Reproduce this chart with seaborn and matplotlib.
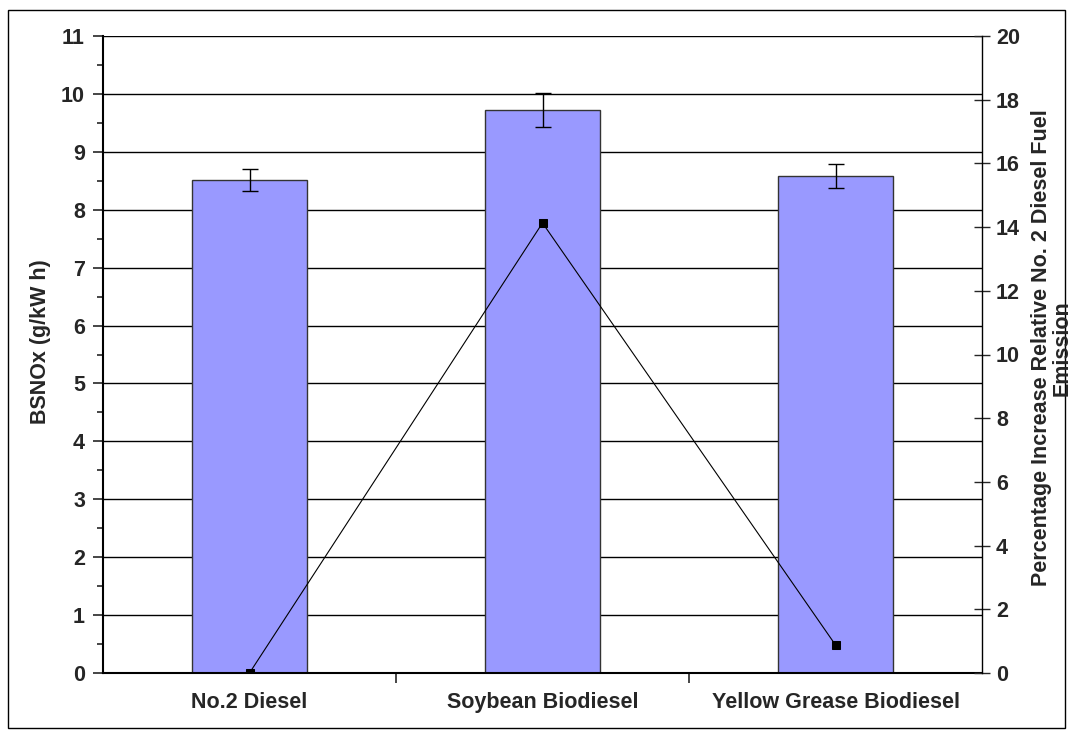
import matplotlib
matplotlib.use('Agg')
import matplotlib.pyplot as plt
from matplotlib.ticker import MultipleLocator
import seaborn as sns
import pandas as pd

fuels = ['No.2 Diesel', 'Soybean Biodiesel', 'Yellow Grease Biodiesel']
bsnox = [8.52, 9.72, 8.58]
bsnox_err = [0.19, 0.29, 0.21]
pct_increase = [0.0, 14.13, 0.88]

sns.set_style('white')
plt.rcParams['font.family'] = ['Liberation Sans', 'DejaVu Sans']
plt.rcParams['font.weight'] = 'bold'
FS = 15.5

df = pd.DataFrame({'fuel': fuels, 'bsnox': bsnox, 'pct': pct_increase})

fig = plt.figure(figsize=(10.73, 7.36), dpi=100)
ax = fig.add_axes([103 / 1073, 1 - 673 / 736, 879 / 1073, 637 / 736])

ax.set_axisbelow(True)
ax.yaxis.grid(True, which='major', color='black', linewidth=1.0)
sns.barplot(data=df, x='fuel', y='bsnox', color='#9999FF', edgecolor='#333333',
            linewidth=1.0, width=0.395, saturation=1, ax=ax, zorder=2)
ax.errorbar(range(len(fuels)), bsnox, yerr=bsnox_err, fmt='none', ecolor='black',
            elinewidth=1.0, capsize=6, capthick=1.0, zorder=3)

ax.set_xlim(-0.5, 2.5)
ax.set_ylim(0, 11)
ax.yaxis.set_major_locator(MultipleLocator(1))
ax.yaxis.set_minor_locator(MultipleLocator(0.5))
ax.tick_params(axis='y', which='major', direction='out', length=7, width=1.2, labelsize=FS, pad=6)
ax.tick_params(axis='y', which='minor', direction='out', length=4, width=1.2, left=True)
ax.set_xticks([0, 1, 2])
ax.set_xticklabels(fuels, fontsize=FS, fontweight='bold')
ax.set_xticks([0.5, 1.5], minor=True)
ax.tick_params(axis='x', which='major', length=0, pad=14)
ax.tick_params(axis='x', which='minor', direction='out', length=7, width=1.2, bottom=True)
for lab in ax.get_yticklabels():
    lab.set_fontweight('bold')
ax.set_xlabel('')
ax.set_ylabel('BSNOx (g/kW h)', fontsize=FS, fontweight='bold')
ax.yaxis.set_label_coords(-52 / 879, 0.52)

for s in ['top', 'right']:
    ax.spines[s].set_visible(False)
ax.spines['left'].set_linewidth(1.5)
ax.spines['bottom'].set_linewidth(1.5)
ax.spines['left'].set_color('black')
ax.spines['bottom'].set_color('black')

ax2 = ax.twinx()
sns.lineplot(data=df, x=range(len(fuels)), y='pct', ax=ax2, color='black', linewidth=0.8,
             marker='s', markersize=6, markerfacecolor='black', markeredgecolor='black')
ax2.set_ylim(0, 20)
ax2.yaxis.set_major_locator(MultipleLocator(2))
ax2.tick_params(axis='y', which='major', direction='inout', length=12, width=1.0, labelsize=FS, pad=4)
for lab in ax2.get_yticklabels():
    lab.set_fontweight('bold')
ax2.set_ylabel('')
for s in ['top', 'left', 'bottom']:
    ax2.spines[s].set_visible(False)
ax2.spines['right'].set_linewidth(1.0)
ax2.spines['right'].set_color('black')
ax2.set_xlim(-0.5, 2.5)

fig.text(1052 / 1073, 1 - 348 / 736,
         'Percentage Increase Relative No. 2 Diesel Fuel\nEmission',
         rotation=90, ha='center', va='center', multialignment='center',
         fontsize=FS, fontweight='bold', linespacing=1.0)

fig.patches.append(plt.Rectangle((8 / 1073, 1 - 728 / 736), 1057 / 1073, 718 / 736,
                                 transform=fig.transFigure, fill=False,
                                 edgecolor='black', linewidth=1.0))

fig.savefig('out.png', dpi=100)
